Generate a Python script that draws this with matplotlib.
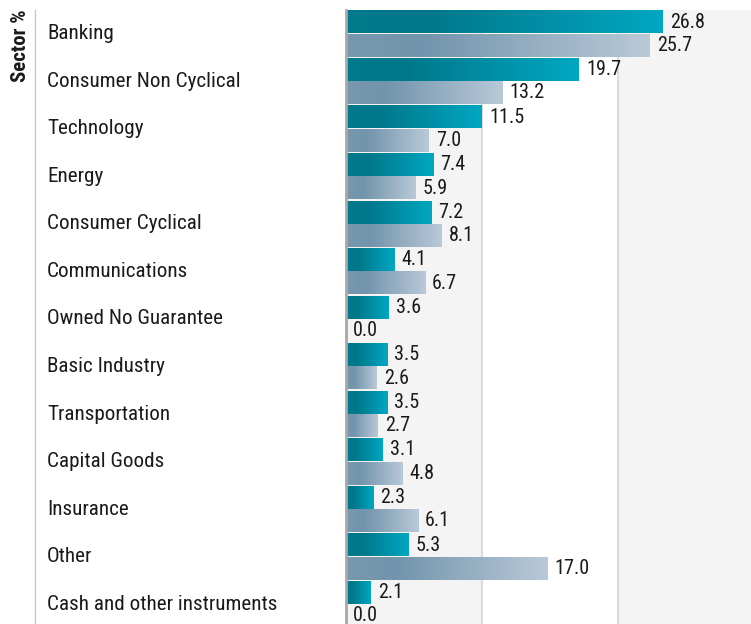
import matplotlib
matplotlib.use("Agg")
import matplotlib.pyplot as plt
import numpy as np
from matplotlib import font_manager
from matplotlib.colors import LinearSegmentedColormap
from matplotlib.lines import Line2D
import matplotlib.transforms as mtransforms

# data
sectors = ["Banking", "Consumer Non Cyclical", "Technology", "Energy",
           "Consumer Cyclical", "Communications", "Owned No Guarantee",
           "Basic Industry", "Transportation", "Capital Goods", "Insurance",
           "Other", "Cash and other instruments"]
fund = [26.8, 19.7, 11.5, 7.4, 7.2, 4.1, 3.6, 3.5, 3.5, 3.1, 2.3, 5.3, 2.1]
index = [25.7, 13.2, 7.0, 5.9, 8.1, 6.7, 0.0, 2.6, 2.7, 4.8, 6.1, 17.0, 0.0]

# pick a narrow font if we have one
names = {f.name for f in font_manager.fontManager.ttflist}
font = "Roboto"
for cand in ["Roboto Condensed", "Liberation Sans Narrow", "Roboto"]:
    if cand in names:
        font = cand
        break
plt.rcParams["font.family"] = [font, "DejaVu Sans"]

teal_cmap = LinearSegmentedColormap.from_list(
    "teal", [(0, "#007a8c"), (0.25, "#00778a"), (1, "#00a7c2")])
grey_cmap = LinearSegmentedColormap.from_list(
    "grey", [(0, "#7898ae"), (0.25, "#7294ac"), (1, "#b9c9d8")])

W, H = 751, 624
fig = plt.figure(figsize=(W / 100, H / 100), dpi=100)
ax = fig.add_axes([346 / W, -4 / H, (W - 346) / W, 618 / H])

n = len(sectors)
y = np.arange(n)
h = 0.475
off = 0.245
xmax = 34.25

ax.set_xlim(0, xmax)
ax.set_ylim(n - 0.5, -0.5)

# alternating bands
ax.axvspan(0, 11.5, color="#f4f4f4", zorder=0, lw=0)
ax.axvspan(23, xmax, color="#f4f4f4", zorder=0, lw=0)
for xv in [11.5, 23]:
    ax.axvline(xv, color="#dcdcdc", lw=1.5, zorder=0.5)

grad = np.linspace(0, 1, 256).reshape(1, -1)
bars1 = ax.barh(y - off, fund, height=h, color="none", lw=0)
bars2 = ax.barh(y + off, index, height=h, color="none", lw=0)
for bars, cmap in [(bars1, teal_cmap), (bars2, grey_cmap)]:
    for b in bars:
        w = b.get_width()
        if w <= 0:
            continue
        y0 = b.get_y()
        ax.imshow(grad, cmap=cmap, aspect="auto", extent=(0, w, y0 + h, y0),
                  zorder=2, interpolation="bicubic")

ax.set_xlim(0, xmax)
ax.set_ylim(n - 0.5, -0.5)

for vals, dy in [(fund, -off), (index, off)]:
    for i, v in enumerate(vals):
        ax.annotate(f"{v:.1f}", (v, i + dy), xytext=(5, 0),
                    textcoords="offset points", va="center", ha="left",
                    fontsize=14.5, color="#1a1a1a", zorder=3)

# category labels
trans = mtransforms.blended_transform_factory(fig.transFigure, ax.transData)
for i, s in enumerate(sectors):
    ax.text(47 / W, i, s, transform=trans, ha="left", va="center",
            fontsize=15.2, color="#1a1a1a", clip_on=False)

for sp in ["top", "right", "bottom"]:
    ax.spines[sp].set_visible(False)
ax.spines["left"].set_color("#a8a8a8")
ax.spines["left"].set_linewidth(2)
ax.spines["left"].set_zorder(4)
ax.set_xticks([])
ax.set_yticks([])

fig.text(20 / W, 1 - 9 / H, "Sector %", rotation=90, ha="center", va="top",
         fontsize=15, fontweight="bold", color="#1a1a1a")
fig.add_artist(Line2D([35 / W, 35 / W], [1 - 10 / H, 0], color="#c8c8c8",
                      lw=1, transform=fig.transFigure))

fig.savefig("out.png", dpi=100, facecolor="white")
